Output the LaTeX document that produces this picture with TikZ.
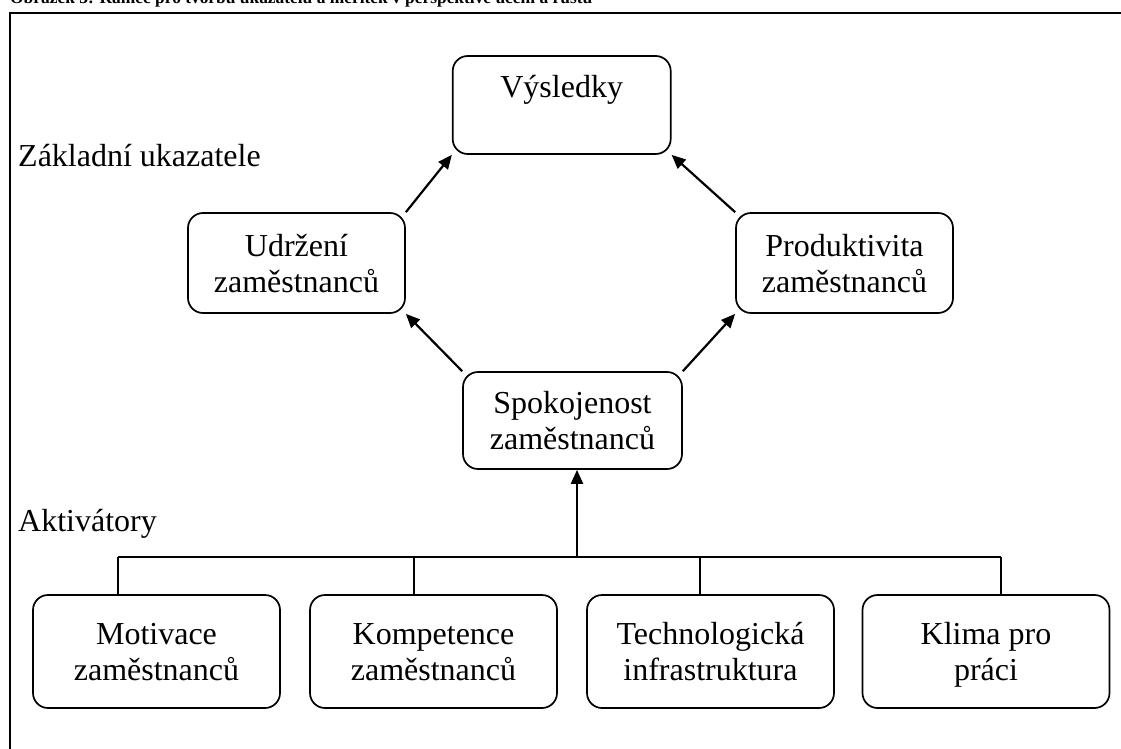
\documentclass[tikz,border=0pt]{standalone}
\usepackage{fontspec}
\setmainfont{Liberation Serif}
\usetikzlibrary{arrows.meta}
\newcommand\twolines[2]{\rule{0pt}{23pt}#1\\\smash{#2}\rule[-1pt]{0pt}{1pt}}
\begin{document}
\begin{tikzpicture}[x=1pt,y=-1pt,
  box/.style={draw, line width=1.7pt, rounded corners=15pt, align=center,
    inner sep=0pt, font=\fontsize{32}{36}\selectfont},
  lbl/.style={anchor=base west, inner sep=0pt, font=\fontsize{32}{36}\selectfont},
  arr/.style={line width=2.2pt, -{Triangle[length=14pt,width=12pt]}},
  conn/.style={line width=1.4pt}]
\useasboundingbox (0,0) rectangle (1121,749);
% clipped title
\node[anchor=base west, inner sep=0pt, font=\fontsize{17.4}{20}\selectfont\bfseries] (title) at (10,4)
  {Obrázek 3: Rámec pro tvorbu ukazatelů a měřítek v perspektivě učení a růstu};
% frame
\draw[line width=2.2pt] (1130,13) -- (10,13) -- (10,760);
% boxes
\node[box, minimum width=218pt, minimum height=98pt] (vys) at (561.7,105) {\twolines{Výsledky}{\mbox{}}};
\node[box, minimum width=217pt, minimum height=100pt] (udr) at (296.5,263) {\twolines{Udržení}{zaměstnanců}};
\node[box, minimum width=217pt, minimum height=100pt] (prod) at (844.5,263) {\twolines{Produktivita}{zaměstnanců}};
\node[box, minimum width=219pt, minimum height=97pt] (spok) at (572.5,420.5) {\twolines{Spokojenost}{zaměstnanců}};
\node[box, minimum width=247pt, minimum height=113pt] (mot) at (156.5,651.5) {\twolines{Motivace}{zaměstnanců}};
\node[box, minimum width=247pt, minimum height=113pt] (komp) at (433.5,651.5) {\twolines{Kompetence}{zaměstnanců}};
\node[box, minimum width=247pt, minimum height=113pt] (tech) at (710.5,651.5) {\twolines{Technologická}{infrastruktura}};
\node[box, minimum width=247pt, minimum height=113pt] (klima) at (986,651.5) {\twolines{Klima pro}{práci}};
% labels
\node[lbl] (zakl) at (18,166) {Základní ukazatele};
\node[lbl] (akt) at (18,531) {Aktivátory};
% arrows
\draw[arr] (udr.north east) -- (vys.south west);
\draw[arr] (prod.north west) -- (vys.south east);
\draw[arr] (spok.north west) -- (udr.south east);
\draw[arr] (spok.north east) -- (prod.south west);
% bus
\coordinate (bA) at (118,557);
\coordinate (bB) at (414,557);
\coordinate (bM) at (577,557);
\coordinate (bC) at (700,557);
\coordinate (bD) at (1001,557);
\draw[conn] (bA) -- (bD);
\draw[conn] (bA) -- (bA |- mot.north);
\draw[conn] (bB) -- (bB |- komp.north);
\draw[conn] (bC) -- (bC |- tech.north);
\draw[conn] (bD) -- (bD |- klima.north);
\draw[arr] (bM) -- (bM |- spok.south);
\end{tikzpicture}
\end{document}
